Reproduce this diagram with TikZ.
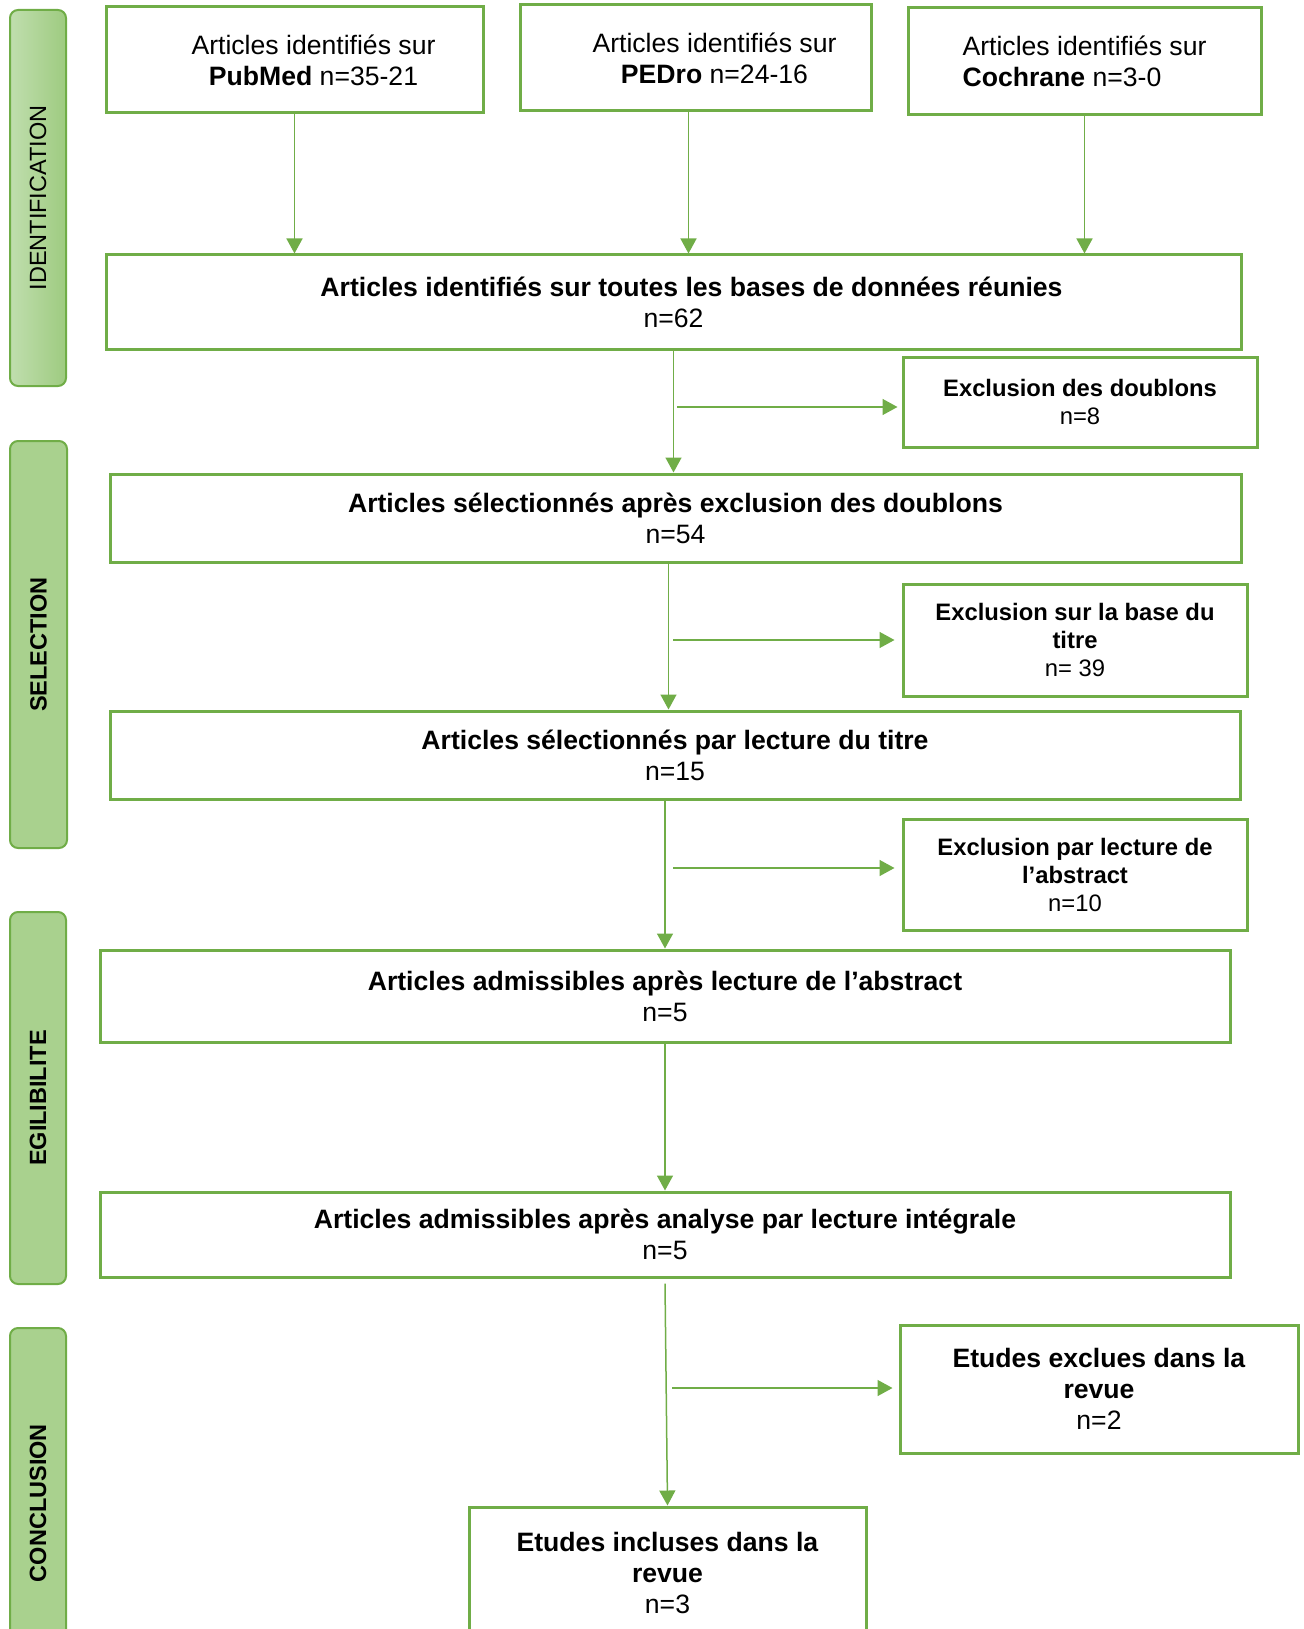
\documentclass[tikz,border=0pt]{standalone}
\usepackage{fontspec}
\setmainfont{Liberation Sans}
\usetikzlibrary{arrows.meta}

\definecolor{vert}{RGB}{112,173,71}
\definecolor{vertclair}{RGB}{169,209,142}
\definecolor{vertpale}{RGB}{192,222,174}
\definecolor{vertfonce}{RGB}{158,203,128}

\newcommand\grandtxt{\fontsize{26.6}{31}\selectfont}
\newcommand\petittxt{\fontsize{23.8}{28}\selectfont}
\newcommand\barretxt{\fontsize{23.5}{28}\selectfont}

\tikzset{
  boite/.style={draw=vert, line width=3pt, fill=white, align=center, inner sep=0pt, font=\grandtxt},
  petiteboite/.style={boite, font=\petittxt},
  barre/.style={draw=vert, line width=2pt, fill=vertclair, rounded corners=8pt, inner sep=0pt, font=\barretxt},
  fleche/.style={draw=vert, line width=1.5pt, -{Triangle[length=15pt,width=16pt]}}
}

\begin{document}
\begin{tikzpicture}[x=1pt,y=-1pt]
\useasboundingbox (0,0) rectangle (1303,1629);

% bandes des etapes
\node[barre, left color=vertpale, right color=vertfonce, minimum width=56pt, minimum height=376pt] (identification) at (38,198) {\rotatebox{90}{IDENTIFICATION}};
\node[barre, minimum width=57pt, minimum height=407pt, font=\barretxt\bfseries] (selection) at (38.5,644.5) {\rotatebox{90}{SELECTION}};
\node[barre, minimum width=56pt, minimum height=372pt, font=\barretxt\bfseries] (egilibilite) at (38,1098) {\rotatebox{90}{EGILIBILITE}};
\node[barre, minimum width=56pt, minimum height=350pt, font=\barretxt\bfseries] (conclusion) at (38,1503) {\rotatebox{90}{CONCLUSION}};

% identification
\node[boite, minimum width=377pt, minimum height=106pt] (pubmed) at (294.5,60) {\hspace*{38pt}Articles identifiés sur\\\hspace*{38pt}\textbf{PubMed} n=35-21};
\node[boite, minimum width=351pt, minimum height=106pt] (pedro) at (695.5,58) {\hspace*{38pt}Articles identifiés sur\\\hspace*{38pt}\textbf{PEDro} n=24-16};
\node[boite, minimum width=353pt, minimum height=107pt, align=left] (cochrane) at (1084.5,61.5) {Articles identifiés sur\\\textbf{Cochrane} n=3-0};
\node[boite, minimum width=1135pt, minimum height=94pt] (toutes) at (673.5,302) {\hspace*{36pt}\textbf{Articles identifiés sur toutes les bases de données réunies}\\n=62};

% selection
\node[petiteboite, minimum width=354pt, minimum height=90pt] (doublons) at (1080,402) {\textbf{Exclusion des doublons}\\n=8};
\node[boite, minimum width=1131pt, minimum height=88pt] (seldoublons) at (675.5,518) {\textbf{Articles sélectionnés après exclusion des doublons}\\n=54};
\node[petiteboite, minimum width=344pt, minimum height=112pt] (exctitre) at (1075,640) {\textbf{Exclusion sur la base du}\\\textbf{titre}\\n= 39};
\node[boite, minimum width=1130pt, minimum height=88pt] (seltitre) at (675,755) {\textbf{Articles sélectionnés par lecture du titre}\\n=15};
\node[petiteboite, minimum width=344pt, minimum height=111pt] (excabstract) at (1075,874.5) {\textbf{Exclusion par lecture de}\\\textbf{l’abstract}\\n=10};

% egilibilite
\node[boite, minimum width=1130pt, minimum height=92pt] (selabstract) at (665,996) {\textbf{Articles admissibles après lecture de l’abstract}\\n=5};
\node[boite, minimum width=1130pt, minimum height=85pt] (selintegrale) at (665,1234.5) {\textbf{Articles admissibles après analyse par lecture intégrale}\\n=5};

% conclusion
\node[boite, minimum width=398pt, minimum height=128pt] (exclues) at (1099,1389) {\textbf{Etudes exclues dans la}\\\textbf{revue}\\n=2};
\node[boite, minimum width=397pt, minimum height=132pt] (incluses) at (667.5,1573) {\textbf{Etudes incluses dans la}\\\textbf{revue}\\n=3};

% fleches
\draw[fleche] (pubmed.south) -- (pubmed.south |- toutes.north);
\draw[fleche] ([xshift=-7pt]pedro.south) -- ([xshift=-7pt]pedro.south |- toutes.north);
\draw[fleche] (cochrane.south) -- (cochrane.south |- toutes.north);

\draw[fleche] (toutes.south) -- (toutes.south |- seldoublons.north);
\draw[fleche] ([xshift=-7pt]seldoublons.south) -- ([xshift=-7pt]seldoublons.south |- seltitre.north);
\draw[fleche] (selabstract.north |- seltitre.south) -- (selabstract.north);
\draw[fleche] (selabstract.south) -- (selintegrale.north);
\draw[fleche] ([yshift=-5pt]selintegrale.south) -- (incluses.north);

\coordinate (b1) at (677,407);
\coordinate (b2) at (673,640);
\coordinate (b3) at (673,868);
\coordinate (b4) at (672,1388);
\draw[fleche, shorten >=4pt] (b1) -- (b1 -| doublons.west);
\draw[fleche, shorten >=7pt] (b2) -- (b2 -| exctitre.west);
\draw[fleche, shorten >=7pt] (b3) -- (b3 -| excabstract.west);
\draw[fleche, shorten >=6pt] (b4) -- (b4 -| exclues.west);
\end{tikzpicture}
\end{document}
